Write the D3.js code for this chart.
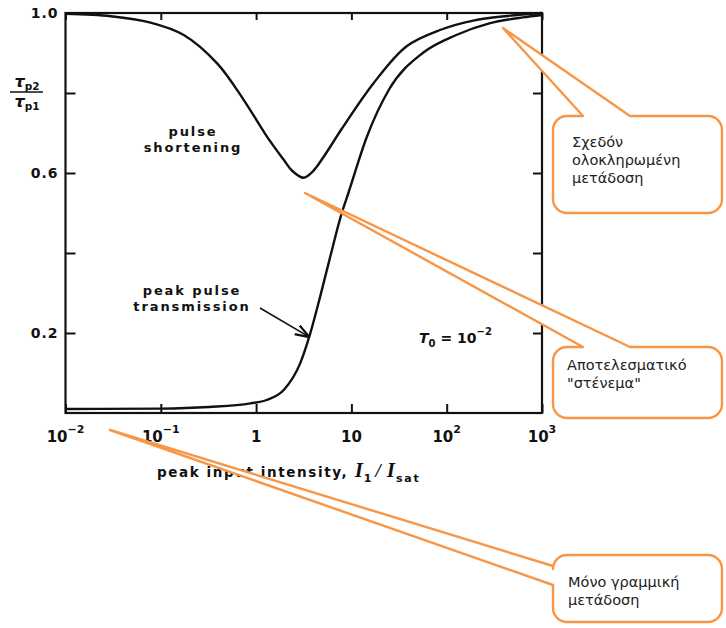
<!DOCTYPE html>
<html>
<head>
<meta charset="utf-8">
<script src="https://cdn.jsdelivr.net/npm/d3@7"></script>
<style>
  body { margin: 0; background: #fff; }
  svg text { font-family: "DejaVu Sans", sans-serif; }
</style>
</head>
<body>
<svg id="chart" width="726" height="628"></svg>
<script>
// Axis ticks
const intensityTicks = [0.01, 0.1, 1, 10, 100, 1000];
const intensityTickBase = ["10", "10", "1", "10", "10", "10"];
const intensityTickExp = ["-2", "-1", "", "", "2", "3"];
const ratioTicks = [0.2, 0.4, 0.6, 0.8, 1.0];
const ratioTickLabels = ["0.2", "", "0.6", "", "1.0"];

// Pulse shortening ratio tau_p2 / tau_p1 versus peak input intensity I1/Isat
const shorteningIntensity = [0.01, 0.03, 0.078, 0.174, 0.39, 0.74, 1.3, 1.95, 2.4, 3.16, 3.9, 5.1, 7.9, 17, 38, 85, 190, 430, 1000];
const shorteningRatio =     [0.998, 0.992, 0.976, 0.945, 0.874, 0.783, 0.691, 0.633, 0.605, 0.588, 0.603, 0.64, 0.71, 0.824, 0.917, 0.9575, 0.981, 0.9925, 1.0];

// Peak pulse transmission versus peak input intensity (T0 = 1e-2)
const transmissionIntensity = [0.01, 0.1, 0.32, 0.87, 1.29, 1.95, 2.9, 3.7, 4.7, 6.0, 7.9, 9.3, 14.5, 25, 56, 126, 280, 630, 1000];
const transmissionRatio =     [0.01, 0.011, 0.015, 0.024, 0.0325, 0.0575, 0.124, 0.199, 0.291, 0.391, 0.499, 0.55, 0.69, 0.81, 0.90, 0.945, 0.974, 0.989, 0.995];

// Callout notes (Greek)
const noteFull = ["Σχεδόν", "ολοκληρωμένη", "μετάδοση"];
const noteNarrow = ["Αποτελεσματικό", "\"στένεμα\""];
const noteLinear = ["Μόνο γραμμική", "μετάδοση"];

const svg = d3.select("#chart");
const plot = { left: 65.5, right: 542, top: 13, bottom: 413 };

const x = d3.scaleLog().domain([0.01, 1000]).range([plot.left, plot.right]);
const y = d3.scaleLinear().domain([0, 1]).range([plot.bottom, plot.top]);

const ink = "#111";
const orange = "#F79646";

// Frame
svg.append("rect")
  .attr("x", plot.left).attr("y", plot.top)
  .attr("width", plot.right - plot.left).attr("height", plot.bottom - plot.top)
  .attr("fill", "none").attr("stroke", ink).attr("stroke-width", 2.2);

// Inward ticks on all four sides
const bottomAxis = d3.axisBottom(x).tickValues(intensityTicks).tickSize(-9).tickFormat("");
const topAxis = d3.axisTop(x).tickValues(intensityTicks).tickSize(-7).tickFormat("");
const leftAxis = d3.axisLeft(y).tickValues(ratioTicks).tickSize(-10).tickFormat("");
const rightAxis = d3.axisRight(y).tickValues(ratioTicks).tickSize(-9).tickFormat("");

function styleAxis(g) {
  g.select(".domain").remove();
  g.selectAll(".tick line").attr("stroke", ink).attr("stroke-width", 2);
}
svg.append("g").attr("transform", `translate(0,${plot.bottom})`).call(bottomAxis).call(styleAxis);
svg.append("g").attr("transform", `translate(0,${plot.top})`).call(topAxis).call(styleAxis);
svg.append("g").attr("transform", `translate(${plot.left},0)`).call(leftAxis).call(styleAxis);
svg.append("g").attr("transform", `translate(${plot.right},0)`).call(rightAxis).call(styleAxis);

// Y tick labels
svg.append("g").selectAll("text")
  .data(ratioTicks.map((v, i) => ({ v, label: ratioTickLabels[i] })).filter(d => d.label))
  .join("text")
  .attr("x", plot.left - 7)
  .attr("y", d => y(d.v) + 5)
  .attr("text-anchor", "end")
  .attr("font-size", 14).attr("font-weight", "bold").attr("letter-spacing", 1)
  .attr("fill", ink)
  .text(d => d.label);

// X tick labels with exponents
const xLabels = svg.append("g").selectAll("text")
  .data(intensityTicks.map((v, i) => ({ v, base: intensityTickBase[i], exp: intensityTickExp[i] })))
  .join("text")
  .attr("x", d => x(d.v))
  .attr("y", 442)
  .attr("text-anchor", "middle")
  .attr("font-size", 15).attr("font-weight", "bold")
  .attr("fill", ink);
xLabels.append("tspan").text(d => d.base);
xLabels.filter(d => d.exp).append("tspan")
  .attr("dy", -9).attr("font-size", 11).text(d => d.exp.replace("-", "−"));

// X axis title
const xTitle = svg.append("text")
  .attr("x", 157).attr("y", 477)
  .attr("font-size", 13.5).attr("font-weight", "bold").attr("letter-spacing", 1.6)
  .attr("fill", ink);
const serifI = sel => sel.attr("font-family", "Liberation Serif, serif").attr("font-style", "italic")
  .attr("font-size", 21).attr("letter-spacing", 0);
xTitle.append("tspan").text("peak input intensity,  ");
xTitle.append("tspan").call(serifI).text("I");
xTitle.append("tspan").attr("dy", 5).attr("dx", 1).attr("font-size", 11).attr("letter-spacing", 0).text("1");
xTitle.append("tspan").attr("dy", -5).attr("dx", 4).attr("font-family", "Liberation Serif, serif").attr("font-style", "italic")
  .attr("font-size", 19).attr("letter-spacing", 0).text("/");
xTitle.append("tspan").attr("dx", 6).call(serifI).text("I");
xTitle.append("tspan").attr("dy", 5).attr("dx", 1).attr("font-size", 11).attr("letter-spacing", 1.8).text("sat");

// Y axis title: tau_p2 / tau_p1
const yTitle = svg.append("g").attr("fill", ink);
function tauLabel(yy, sub) {
  const t = yTitle.append("text").attr("x", 27).attr("y", yy).attr("text-anchor", "middle")
    .attr("font-weight", "bold");
  t.append("tspan").attr("font-size", 16).attr("font-style", "italic").text("τ");
  t.append("tspan").attr("font-size", 10.5).attr("dy", 3).text(sub);
}
tauLabel(87, "p2");
yTitle.append("line").attr("x1", 10).attr("x2", 43).attr("y1", 92).attr("y2", 92)
  .attr("stroke", ink).attr("stroke-width", 1.5);
tauLabel(107, "p1");

// Curves
const smoothLine = d3.line().x(d => x(d[0])).y(d => y(d[1])).curve(d3.curveCatmullRom.alpha(0.5));
const monoLine = d3.line().x(d => x(d[0])).y(d => y(d[1])).curve(d3.curveMonotoneX);
const curves = [
  { pts: d3.zip(shorteningIntensity, shorteningRatio), gen: smoothLine },
  { pts: d3.zip(transmissionIntensity, transmissionRatio), gen: monoLine }
];
svg.append("g").selectAll("path").data(curves).join("path")
  .attr("d", d => d.gen(d.pts))
  .attr("fill", "none").attr("stroke", ink).attr("stroke-width", 2.4)
  .attr("stroke-linejoin", "round");

// Curve annotations
function annoText(lines, cx, firstY, gap) {
  svg.append("g").selectAll("text").data(lines).join("text")
    .attr("x", cx).attr("y", (d, i) => firstY + i * gap)
    .attr("text-anchor", "middle")
    .attr("font-size", 13).attr("font-weight", "bold")
    .attr("letter-spacing", 1.9)
    .attr("fill", ink)
    .text(d => d);
}
annoText(["pulse", "shortening"], 193, 136, 16);
annoText(["peak pulse", "transmission"], 192, 295, 16);

// Arrow to the transmission curve
svg.append("defs").append("marker")
  .attr("id", "arrow").attr("viewBox", "0 0 10 10")
  .attr("refX", 9).attr("refY", 5)
  .attr("markerWidth", 9).attr("markerHeight", 9)
  .attr("orient", "auto")
  .append("path").attr("d", "M0,1.5 L10,5 L0,8.5").attr("fill", "none")
  .attr("stroke", ink).attr("stroke-width", 1.6);
const arrowEnd = [x(3.7) - 2, y(0.199) + 3];
svg.append("line")
  .attr("x1", 260).attr("y1", 308).attr("x2", arrowEnd[0]).attr("y2", arrowEnd[1])
  .attr("stroke", ink).attr("stroke-width", 1.6)
  .attr("marker-end", "url(#arrow)");

// T0 = 10^-2
const t0 = svg.append("text").attr("x", 419).attr("y", 343)
  .attr("font-size", 14).attr("font-weight", "bold").attr("fill", ink);
t0.append("tspan").attr("font-style", "italic").text("T");
t0.append("tspan").attr("font-size", 10).attr("dy", 4).text("0");
t0.append("tspan").attr("dy", -4).text(" = 10");
t0.append("tspan").attr("font-size", 10).attr("dy", -8).text("−2");

// Callout boxes with pointer wedges
function calloutPath(box, tip, side, b1, b2) {
  const { x0, y0, x1, y1, r } = box;
  const p = d3.path();
  if (side === "top") {
    p.moveTo(x0 + r, y0);
    p.lineTo(b1, y0); p.lineTo(tip[0], tip[1]); p.lineTo(b2, y0);
    p.lineTo(x1 - r, y0);
    p.arcTo(x1, y0, x1, y0 + r, r);
    p.lineTo(x1, y1 - r); p.arcTo(x1, y1, x1 - r, y1, r);
    p.lineTo(x0 + r, y1); p.arcTo(x0, y1, x0, y1 - r, r);
    p.lineTo(x0, y0 + r); p.arcTo(x0, y0, x0 + r, y0, r);
  } else {
    p.moveTo(x0 + r, y0);
    p.lineTo(x1 - r, y0); p.arcTo(x1, y0, x1, y0 + r, r);
    p.lineTo(x1, y1 - r); p.arcTo(x1, y1, x1 - r, y1, r);
    p.lineTo(x0 + r, y1); p.arcTo(x0, y1, x0, y1 - r, r);
    p.lineTo(x0, b2); p.lineTo(tip[0], tip[1]); p.lineTo(x0, b1);
    p.lineTo(x0, y0 + r); p.arcTo(x0, y0, x0 + r, y0, r);
  }
  p.closePath();
  return p.toString();
}

const callouts = [
  { box: { x0: 553, y0: 116, x1: 722, y1: 213, r: 14 }, tip: [503, 28], side: "top", b1: 583, b2: 630, lines: noteFull, tx: 572, ty: 147 },
  { box: { x0: 553, y0: 347, x1: 722, y1: 418, r: 14 }, tip: [305, 193], side: "top", b1: 583, b2: 630, lines: noteNarrow, tx: 567, ty: 370 },
  { box: { x0: 553, y0: 555, x1: 722, y1: 622, r: 14 }, tip: [110, 430], side: "left", b1: 566, b2: 585, lines: noteLinear, tx: 568, ty: 587 }
];

const cg = svg.append("g");
callouts.forEach(c => {
  cg.append("path")
    .attr("d", calloutPath(c.box, c.tip, c.side, c.b1, c.b2))
    .attr("fill", "#fff").attr("stroke", orange).attr("stroke-width", 2.4)
    .attr("stroke-linejoin", "round");
  cg.append("g").selectAll("text").data(c.lines).join("text")
    .attr("x", c.tx).attr("y", (d, i) => c.ty + i * 18)
    .attr("font-family", "Open Sans, Noto Sans, sans-serif")
    .attr("font-size", 14.5).attr("fill", "#222")
    .text(d => d);
});
</script>
</body>
</html>
